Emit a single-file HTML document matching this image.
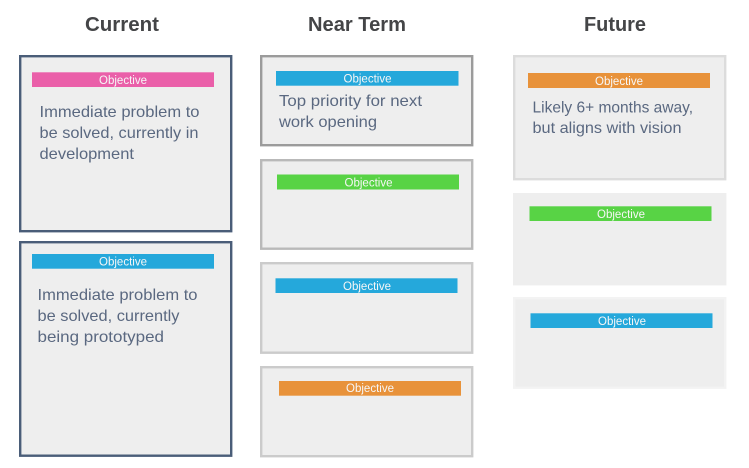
<!DOCTYPE html>
<html>
<head>
<meta charset="utf-8">
<style>
html,body{margin:0;padding:0;background:#fff;width:749px;height:468px;overflow:hidden}
svg{display:block}
text{font-family:"Liberation Sans",sans-serif}
.h{font-size:20px;font-weight:bold;fill:#444547}
.o{font-size:11.5px;fill:#f6f6f6;text-anchor:start}
.t{font-size:16px;fill:#5a6880}
</style>
</head>
<body>
<svg width="749" height="468" viewBox="0 0 749 468" xmlns="http://www.w3.org/2000/svg">
<rect width="749" height="468" fill="#fff"/>

<text class="h" x="85" y="31" textLength="74" lengthAdjust="spacingAndGlyphs">Current</text>
<text class="h" x="308" y="31" textLength="98" lengthAdjust="spacingAndGlyphs">Near Term</text>
<text class="h" x="584" y="31" textLength="62" lengthAdjust="spacingAndGlyphs">Future</text>

<g fill="#eeeeee" stroke-width="2.4">
<rect x="20.2" y="56.2" width="211" height="175" stroke="#4a5d78"/>
<rect x="20.2" y="242.2" width="211" height="213.5" stroke="#4a5d78"/>
<rect x="261.2" y="56.2" width="211" height="89" stroke="#9b9b9b"/>
<rect x="261.2" y="160.2" width="211" height="88.5" stroke="#b9b9b9"/>
<rect x="261.2" y="263.2" width="211" height="89.5" stroke="#cbcbcb"/>
<rect x="261.2" y="367.2" width="211" height="89" stroke="#cbcbcb"/>
<rect x="514.2" y="56.2" width="211" height="123" stroke="#dcdcdc"/>
<rect x="514.2" y="194.2" width="211" height="90" stroke="#eeeeee"/>
<rect x="514.2" y="298.2" width="211" height="89.5" stroke="#f3f3f3"/>
</g>

<rect x="32" y="72.3" width="182" height="14.7" fill="#ea5fa9"/>
<rect x="32" y="254" width="182" height="14.7" fill="#25a8db"/>
<rect x="276" y="71" width="182.5" height="14.7" fill="#25a8db"/>
<rect x="277" y="174.5" width="182" height="15" fill="#58d345"/>
<rect x="275.5" y="278.3" width="182" height="14.7" fill="#25a8db"/>
<rect x="279" y="381" width="182" height="14.7" fill="#e8923a"/>
<rect x="528" y="73" width="182" height="15" fill="#e8923a"/>
<rect x="529.5" y="206.3" width="182" height="14.7" fill="#58d345"/>
<rect x="530.5" y="313.3" width="182" height="14.7" fill="#25a8db"/>

<text class="o" x="99" y="84" textLength="48" lengthAdjust="spacingAndGlyphs">Objective</text>
<text class="o" x="99" y="265.5" textLength="48" lengthAdjust="spacingAndGlyphs">Objective</text>
<text class="o" x="343.5" y="82.5" textLength="48" lengthAdjust="spacingAndGlyphs">Objective</text>
<text class="o" x="344.5" y="186.5" textLength="48" lengthAdjust="spacingAndGlyphs">Objective</text>
<text class="o" x="343" y="290" textLength="48" lengthAdjust="spacingAndGlyphs">Objective</text>
<text class="o" x="346" y="392" textLength="48" lengthAdjust="spacingAndGlyphs">Objective</text>
<text class="o" x="595" y="85" textLength="48" lengthAdjust="spacingAndGlyphs">Objective</text>
<text class="o" x="597" y="218" textLength="48" lengthAdjust="spacingAndGlyphs">Objective</text>
<text class="o" x="598" y="325" textLength="48" lengthAdjust="spacingAndGlyphs">Objective</text>

<text class="t" x="39.5" y="117" textLength="160" lengthAdjust="spacingAndGlyphs">Immediate problem to</text>
<text class="t" x="39.5" y="138" textLength="159" lengthAdjust="spacingAndGlyphs">be solved, currently in</text>
<text class="t" x="39.5" y="159" textLength="94.5" lengthAdjust="spacingAndGlyphs">development</text>

<text class="t" x="37.5" y="300" textLength="160" lengthAdjust="spacingAndGlyphs">Immediate problem to</text>
<text class="t" x="37.5" y="321" textLength="142" lengthAdjust="spacingAndGlyphs">be solved, currently</text>
<text class="t" x="37.5" y="342" textLength="126.5" lengthAdjust="spacingAndGlyphs">being prototyped</text>

<text class="t" x="279" y="106" textLength="143" lengthAdjust="spacingAndGlyphs">Top priority for next</text>
<text class="t" x="279" y="127" textLength="98" lengthAdjust="spacingAndGlyphs">work opening</text>

<text class="t" x="532.5" y="112.5" textLength="160.5" lengthAdjust="spacingAndGlyphs">Likely 6+ months away,</text>
<text class="t" x="532.5" y="133" textLength="149" lengthAdjust="spacingAndGlyphs">but aligns with vision</text>
</svg>
</body>
</html>
